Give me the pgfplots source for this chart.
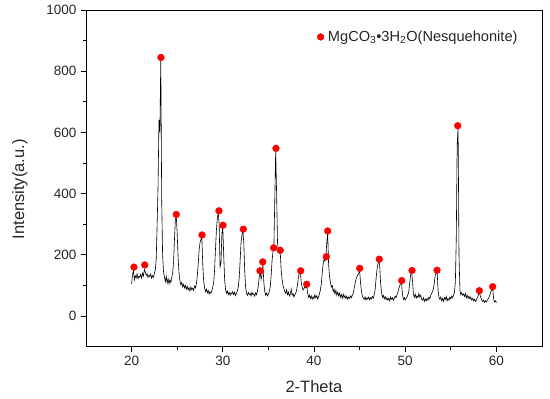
\documentclass[border=0pt]{standalone}
\usepackage{pgfplots}
\pgfplotsset{compat=1.18}
\usepackage{fontspec}
\setmainfont{Liberation Sans}
\begin{document}
\begin{tikzpicture}
\begin{axis}[
  scale only axis,
  width=456pt, height=336.7pt,
  xmin=15, xmax=65, ymin=-100, ymax=1000,
  xtick={20,30,40,50,60}, ytick={0,200,400,600,800,1000},
  minor x tick num=1, minor y tick num=1,
  tick align=outside,
  xtick pos=bottom, ytick pos=left,
  major tick length=5pt, minor tick length=3pt,
  axis line style={line width=0.9pt},
  every tick/.style={black, line width=0.9pt},
  /pgf/number format/assume math mode=true,
  /pgf/number format/1000 sep={},
  tick label style={font=\fontsize{13.5}{15}\selectfont, text=black!85},
  xticklabel style={yshift=-1pt},
  yticklabel style={xshift=-1pt},
  xlabel={2-Theta}, ylabel={Intensity(a.u.)},
  label style={font=\fontsize{16.5}{18}\selectfont, text=black!85},
  xlabel style={yshift=-8pt},
  ylabel style={yshift=12pt, xshift=-11pt},
  legend style={draw=none, fill=none, at={(0.5,0.92)}, anchor=west,
    font=\fontsize{14.6}{16}\selectfont, text=black!85},
  legend cell align=left,
]
\addplot[black, line width=0.6pt, forget plot] coordinates {
(20.0,105)(20.1,135)(20.2,150)(20.3,118)(20.4,132)(20.5,125)(20.6,138)(20.7,122)(20.8,130)(20.9,127)
(21.0,136)(21.1,124)(21.2,140)(21.3,131)(21.4,152)(21.5,145)(21.6,133)(21.7,138)(21.8,126)(21.9,134)
(22.0,129)(22.1,137)(22.2,124)(22.3,132)(22.4,127)(22.5,140)(22.6,150)(22.7,185)(22.8,300)(22.9,420)
(23.0,640)(23.1,600)(23.2,840)(23.3,380)(23.4,200)(23.5,145)(23.6,128)(23.7,112)(23.8,130)(23.9,108)
(24.0,122)(24.1,105)(24.2,118)(24.3,110)(24.4,125)(24.5,140)(24.6,175)(24.7,250)(24.8,315)(24.9,325)
(25.0,270)(25.1,190)(25.2,140)(25.3,115)(25.4,102)(25.5,110)(25.6,95)(25.7,104)(25.8,92)(25.9,100)
(26.0,88)(26.1,97)(26.2,85)(26.3,93)(26.4,82)(26.5,95)(26.6,86)(26.7,91)(26.8,84)(26.9,98)
(27.0,92)(27.1,105)(27.2,130)(27.3,170)(27.4,215)(27.5,240)(27.6,250)(27.7,258)(27.8,170)(27.9,115)
(28.0,92)(28.1,80)(28.2,88)(28.3,76)(28.4,84)(28.5,72)(28.6,80)(28.7,74)(28.8,83)(28.9,95)
(29.0,110)(29.1,150)(29.2,220)(29.3,280)(29.4,320)(29.5,338)(29.6,300)(29.7,160)(29.8,175)(29.9,270)
(30.0,290)(30.1,200)(30.2,120)(30.3,88)(30.4,75)(30.5,82)(30.6,70)(30.7,78)(30.8,68)(30.9,76)
(31.0,72)(31.1,80)(31.2,70)(31.3,78)(31.4,67)(31.5,75)(31.6,82)(31.7,95)(31.8,125)(31.9,180)
(32.0,240)(32.1,265)(32.2,278)(32.3,240)(32.4,150)(32.5,95)(32.6,75)(32.7,68)(32.8,77)(32.9,70)
(33.0,74)(33.1,66)(33.2,78)(33.3,70)(33.4,73)(33.5,65)(33.6,76)(33.7,70)(33.8,82)(33.9,100)
(34.0,130)(34.1,145)(34.2,120)(34.3,135)(34.4,168)(34.5,110)(34.6,80)(34.7,68)(34.8,75)(34.9,66)
(35.0,72)(35.1,80)(35.2,95)(35.3,130)(35.4,180)(35.5,210)(35.6,222)(35.7,380)(35.8,545)(35.9,400)
(36.0,240)(36.1,215)(36.2,205)(36.3,210)(36.4,150)(36.5,120)(36.6,100)(36.7,90)(36.8,80)(36.9,74)
(37.0,86)(37.1,70)(37.2,78)(37.3,66)(37.4,72)(37.5,88)(37.6,68)(37.7,74)(37.8,62)(37.9,70)
(38.0,75)(38.1,85)(38.2,105)(38.3,130)(38.4,140)(38.5,145)(38.6,110)(38.7,95)(38.8,85)(38.9,90)
(39.0,95)(39.1,92)(39.2,100)(39.3,75)(39.4,62)(39.5,68)(39.6,58)(39.7,66)(39.8,55)(39.9,63)
(40.0,57)(40.1,70)(40.2,60)(40.3,66)(40.4,56)(40.5,64)(40.6,72)(40.7,85)(40.8,105)(40.9,140)
(41.0,170)(41.1,185)(41.2,180)(41.3,190)(41.4,240)(41.5,272)(41.6,170)(41.7,130)(41.8,110)(41.9,95)
(42.0,100)(42.1,80)(42.2,88)(42.3,72)(42.4,84)(42.5,68)(42.6,78)(42.7,66)(42.8,75)(42.9,62)
(43.0,70)(43.1,58)(43.2,72)(43.3,60)(43.4,67)(43.5,57)(43.6,65)(43.7,55)(43.8,62)(43.9,58)
(44.0,66)(44.1,60)(44.2,68)(44.3,75)(44.4,90)(44.5,105)(44.6,120)(44.7,128)(44.8,135)(44.9,140)
(45.0,150)(45.1,110)(45.2,82)(45.3,66)(45.4,60)(45.5,55)(45.6,63)(45.7,52)(45.8,60)(45.9,55)
(46.0,62)(46.1,53)(46.2,60)(46.3,56)(46.4,64)(46.5,58)(46.6,70)(46.7,85)(46.8,120)(46.9,150)
(47.0,170)(47.1,180)(47.2,165)(47.3,110)(47.4,78)(47.5,62)(47.6,68)(47.7,56)(47.8,64)(47.9,54)
(48.0,60)(48.1,52)(48.2,58)(48.3,50)(48.4,62)(48.5,55)(48.6,60)(48.7,52)(48.8,58)(48.9,65)
(49.0,60)(49.1,70)(49.2,78)(49.3,90)(49.4,100)(49.5,106)(49.6,110)(49.7,72)(49.8,55)(49.9,60)
(50.0,52)(50.1,58)(50.2,62)(50.3,70)(50.4,82)(50.5,110)(50.6,135)(50.7,145)(50.8,115)(50.9,72)
(51.0,62)(51.1,72)(51.2,58)(51.3,66)(51.4,60)(51.5,74)(51.6,62)(51.7,68)(51.8,55)(51.9,52)
(52.0,60)(52.1,48)(52.2,56)(52.3,50)(52.4,58)(52.5,52)(52.6,62)(52.7,56)(52.8,68)(52.9,75)
(53.0,80)(53.1,90)(53.2,110)(53.3,135)(53.4,140)(53.5,148)(53.6,85)(53.7,62)(53.8,55)(53.9,62)
(54.0,50)(54.1,58)(54.2,48)(54.3,60)(54.4,54)(54.5,64)(54.6,50)(54.7,58)(54.8,52)(54.9,62)
(55.0,56)(55.1,65)(55.2,60)(55.3,68)(55.4,78)(55.5,110)(55.6,250)(55.7,560)(55.8,618)(55.9,200)
(56.0,85)(56.1,70)(56.2,76)(56.3,68)(56.4,72)(56.5,64)(56.6,74)(56.7,60)(56.8,68)(56.9,58)
(57.0,65)(57.1,56)(57.2,62)(57.3,52)(57.4,58)(57.5,50)(57.6,55)(57.7,48)(57.8,52)(57.9,60)
(58.0,66)(58.1,80)(58.2,70)(58.3,60)(58.4,52)(58.5,48)(58.6,52)(58.7,45)(58.8,50)(58.9,46)
(59.0,52)(59.1,56)(59.2,62)(59.3,70)(59.4,80)(59.5,85)(59.6,92)(59.7,55)(59.8,46)(59.9,50)(60.0,44)
};
\addplot[only marks, mark=*, mark size=3.4pt, color=red, mark options={fill=red, draw=red}] coordinates {
(20.26,160)(21.44,167)(23.22,845)(24.90,332)(27.72,265)(29.58,344)(30.02,297)(32.25,284)
(34.08,148)(34.38,177)(35.58,223)(35.83,548)(36.30,215)(38.54,148)(39.20,104)(41.35,194)
(41.50,278)(45.01,156)(47.16,186)(49.62,116)(50.75,149)(53.49,150)(55.76,622)(58.13,83)(59.59,96)
};
\addlegendentry{\hspace{2pt}MgCO\textsubscript{3}•3H\textsubscript{2}O(Nesquehonite)}
\end{axis}
\pgfresetboundingbox
\path[use as bounding box] (-86pt,-52.3pt) rectangle (464pt,346.7pt);
\end{tikzpicture}
\end{document}
